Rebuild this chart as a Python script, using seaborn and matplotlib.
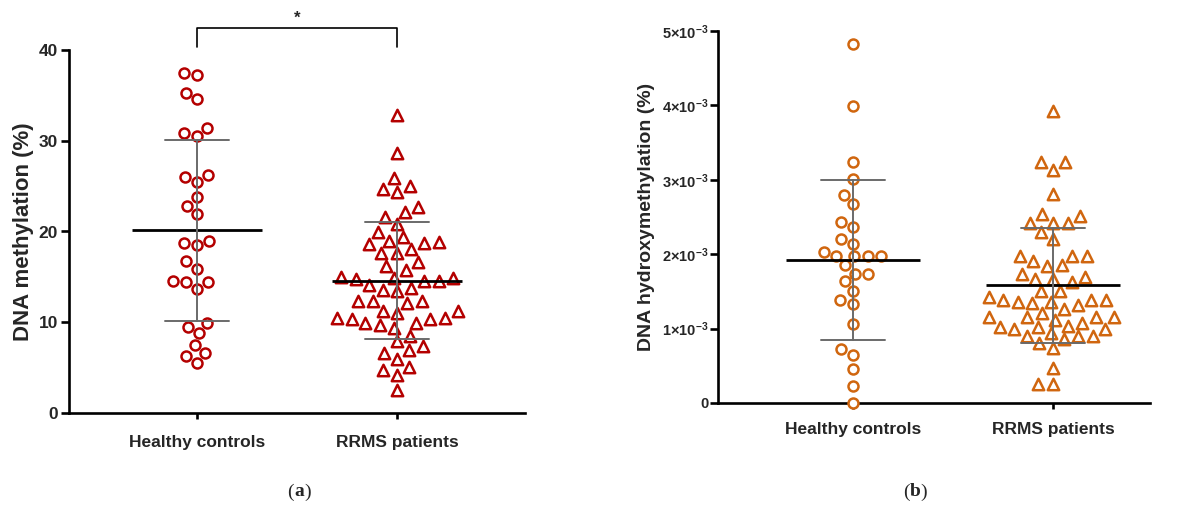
import numpy as np
import pandas as pd
import matplotlib
matplotlib.use("Agg")
import matplotlib.pyplot as plt
import seaborn as sns

# ---------------- data ----------------
groups = ["Healthy controls", "RRMS patients"]

# DNA methylation (%)
meth_healthy = [37.5, 37.2, 35.3, 34.6, 31.4, 30.9, 30.5, 26.2, 26.0, 25.4, 23.8, 22.8,
                21.9, 19.0, 18.7, 18.5, 16.7, 15.9, 14.5, 14.4, 14.4, 13.7, 9.9, 9.5,
                8.8, 7.5, 6.6, 6.3, 5.5]
meth_rrms = [32.8, 28.7, 25.9, 25.0, 24.7, 24.4, 22.7, 22.1, 21.6, 20.8,
             19.9, 19.4, 18.9, 18.8, 18.7, 18.6, 18.1, 17.6, 17.6, 16.6,
             16.2, 15.8, 15.0, 14.9, 14.9, 14.8, 14.5, 14.5, 14.1, 13.8,
             13.6, 13.4, 12.3, 12.3, 12.3, 12.1, 11.2, 11.2, 11.0, 10.5,
             10.5, 10.4, 10.4, 9.9, 9.9, 9.7, 9.4, 8.5, 7.9, 7.4,
             6.9, 6.6, 6.0, 5.1, 4.7, 4.2, 2.5]

# DNA hydroxymethylation (%), in units of 1e-3
hmeth_healthy = [4.82, 3.99, 3.24, 3.01, 2.79, 2.67, 2.43, 2.36, 2.20, 2.14, 2.03,
                 1.97, 1.97, 1.97, 1.97, 1.85, 1.74, 1.74, 1.64, 1.51, 1.38, 1.33,
                 1.06, 0.72, 0.64, 0.46, 0.23, 0.0]
hmeth_rrms = [3.93, 3.24, 3.24, 3.13, 2.81, 2.54, 2.52, 2.42, 2.42, 2.42,
              2.30, 2.20, 1.98, 1.98, 1.98, 1.91, 1.84, 1.85, 1.74, 1.69,
              1.67, 1.67, 1.62, 1.50, 1.50, 1.43, 1.36, 1.36, 1.38, 1.35,
              1.38, 1.38, 1.32, 1.27, 1.21, 1.15, 1.12, 1.15, 1.15, 1.15,
              1.08, 1.02, 1.04, 1.00, 0.99, 1.02, 0.94, 0.90, 0.90, 0.90,
              0.86, 0.81, 0.74, 0.47, 0.26, 0.26]

meth_ticks = [0, 10, 20, 30, 40]
meth_ticklabels = ["0", "10", "20", "30", "40"]
hmeth_ticks = [0, 1e-3, 2e-3, 3e-3, 4e-3, 5e-3]
hmeth_ticklabels = ["0"] + [r"$\mathbf{%d{\times}10^{-3}}$" % i for i in range(1, 6)]

# ---------------- style ----------------
sns.set_style("white")
plt.rcParams["font.family"] = ["Liberation Sans", "DejaVu Sans"]
plt.rcParams["font.weight"] = "bold"
plt.rcParams["mathtext.fontset"] = "custom"
plt.rcParams["mathtext.bf"] = "Liberation Sans:bold"
plt.rcParams["mathtext.rm"] = "Liberation Sans:bold"
plt.rcParams["mathtext.it"] = "Liberation Sans:bold"

RED = "#B40000"
ORANGE = "#D0660F"

W, H = 1177, 518
fig = plt.figure(figsize=(W / 100, H / 100), dpi=100)


def px_axes(l, r, b, t):
    return fig.add_axes([l / W, (H - b) / H, (r - l) / W, (b - t) / H])


ax1 = px_axes(69, 525, 413, 50)
ax2 = px_axes(718, 1150, 403, 31)


def draw_panel(ax, healthy, rrms, color, mean_size):
    df = pd.DataFrame({
        "group": [groups[0]] * len(healthy) + [groups[1]] * len(rrms),
        "value": list(healthy) + list(rrms),
    })
    for g, m, s in [(groups[0], "o", 7.2), (groups[1], "^", 8.2)]:
        n0 = len(ax.collections)
        sns.swarmplot(data=df[df["group"] == g], x="group", y="value", order=groups,
                      marker=m, size=s, color=color, edgecolor=color, linewidth=1.8,
                      ax=ax, zorder=3, clip_on=False)
        for c in ax.collections[n0:]:
            c.set_facecolor("white")
            c.set_edgecolor(color)
            c.set_clip_on(False)
    sns.pointplot(data=df, x="group", y="value", order=groups, errorbar="sd",
                  capsize=0.32, markers="_", markersize=mean_size, markeredgewidth=2.0,
                  linestyle="none", color="black",
                  err_kws={"color": "#6a6a6a", "linewidth": 1.4}, ax=ax, zorder=4)
    return df


draw_panel(ax1, meth_healthy, meth_rrms, RED, 94)
draw_panel(ax2, np.array(hmeth_healthy) * 1e-3, np.array(hmeth_rrms) * 1e-3, ORANGE, 96)

for ax in (ax1, ax2):
    for sp in ("top", "right"):
        ax.spines[sp].set_visible(False)
    for sp in ("left", "bottom"):
        ax.spines[sp].set_linewidth(1.9)
        ax.spines[sp].set_color("black")
    ax.set_xlabel("")
    ax.tick_params(axis="both", which="major", direction="out", color="black",
                   width=1.9, left=True, bottom=True)

ax1.set_xlim(-0.64, 1.64)
ax1.set_ylim(0, 40)
ax1.set_yticks(meth_ticks)
ax1.set_yticklabels(meth_ticklabels, fontsize=12.5, fontweight="bold")
ax1.tick_params(axis="y", length=6, pad=2)
ax1.tick_params(axis="x", length=4, pad=12, labelsize=12.5)
ax1.set_ylabel("DNA methylation (%)", fontsize=16, fontweight="bold", labelpad=3)

ax2.set_xlim(-0.675, 1.485)
ax2.set_ylim(0, 5e-3)
ax2.set_yticks(hmeth_ticks)
ax2.set_yticklabels(hmeth_ticklabels, fontsize=10.5, fontweight="bold")
ax2.tick_params(axis="y", length=6, pad=1)
ax2.tick_params(axis="x", length=4, pad=10, labelsize=12.5)
ax2.set_ylabel("DNA hydroxymethylation (%)", fontsize=14, fontweight="bold", labelpad=5)

for ax in (ax1, ax2):
    for lab in ax.get_xticklabels():
        lab.set_fontweight("bold")

# significance bracket
ax1.plot([0, 0, 1, 1], [40.3, 42.4, 42.4, 40.3], color="black", lw=1.2, clip_on=False)
ax1.text(0.5, 42.7, "*", ha="center", va="bottom", fontsize=12, fontweight="bold",
         clip_on=False)

# panel letters
for xc, letter in [(299, "a"), (915, "b")]:
    y = (H - 492) / H
    fig.text(xc / W, y, letter, ha="center", va="center", fontsize=14,
             fontweight="bold", family="Liberation Serif")
    fig.text((xc - 5) / W, y, "(", ha="right", va="center", fontsize=14,
             fontweight="normal", family="Liberation Serif")
    fig.text((xc + 5) / W, y, ")", ha="left", va="center", fontsize=14,
             fontweight="normal", family="Liberation Serif")

fig.savefig("out.png", dpi=100, facecolor="white")
